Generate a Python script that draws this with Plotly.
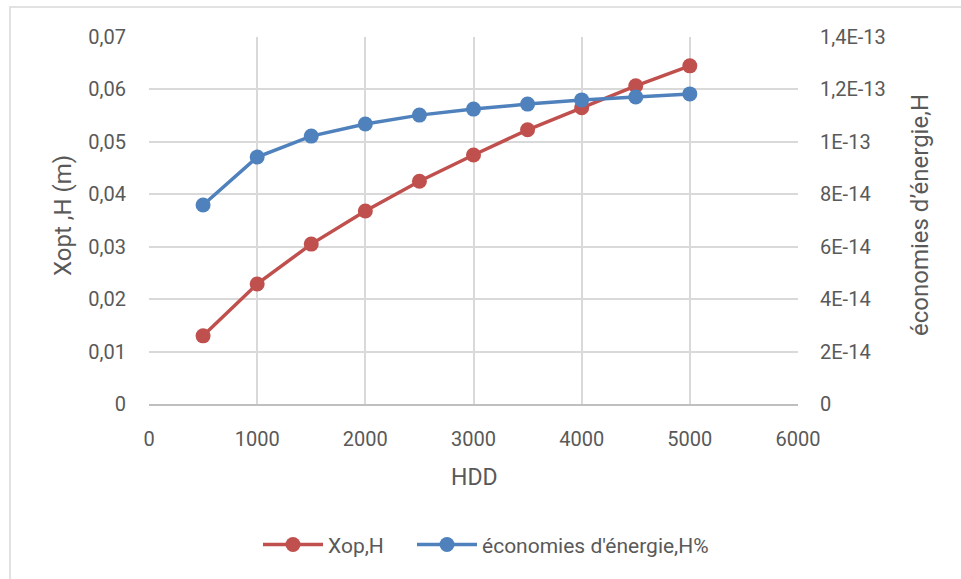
import plotly.graph_objects as go

hdd = [500, 1000, 1500, 2000, 2500, 3000, 3500, 4000, 4500, 5000]
xop_h = [0.0130, 0.0229, 0.0305, 0.0368, 0.0425, 0.0475, 0.0523, 0.0565, 0.0607, 0.0645]
eco_h = [0.759e-13, 0.942e-13, 1.022e-13, 1.068e-13, 1.102e-13, 1.125e-13, 1.144e-13, 1.160e-13, 1.171e-13, 1.183e-13]

x_ticks = [0, 1000, 2000, 3000, 4000, 5000, 6000]
y1_ticks = [0, 0.01, 0.02, 0.03, 0.04, 0.05, 0.06, 0.07]
y1_text = ["0", "0,01", "0,02", "0,03", "0,04", "0,05", "0,06", "0,07"]
y2_ticks = [0, 2e-14, 4e-14, 6e-14, 8e-14, 1e-13, 1.2e-13, 1.4e-13]
y2_text = ["0", "2E-14", "4E-14", "6E-14", "8E-14", "1E-13", "1,2E-13", "1,4E-13"]

RED = "#C0504D"
BLUE = "#4F81BD"
TXT = "#595959"
GRID = "#d9d9d9"

fig = go.Figure()
fig.add_trace(go.Scatter(x=hdd, y=xop_h, name="Xop,H", mode="lines+markers",
                         line=dict(color=RED, width=3.5), marker=dict(color=RED, size=15),
                         legendwidth=79))
fig.add_trace(go.Scatter(x=hdd, y=eco_h, name="économies d'énergie,H%", mode="lines+markers",
                         line=dict(color=BLUE, width=3.5), marker=dict(color=BLUE, size=15),
                         yaxis="y2"))

L, R, T, B = 149, 798, 37, 404
W, H = 961, 579
pw, ph = R - L, B - T


def px(xp):
    return (xp - L) / pw


def py(yp):
    return (B - yp) / ph


fig.update_layout(
    width=W, height=H,
    margin=dict(l=L, r=W - R, t=T, b=H - B),
    paper_bgcolor="white", plot_bgcolor="white",
    font=dict(family="Roboto, sans-serif", size=20, color=TXT),
    showlegend=True,
    legend=dict(orientation="h", xref="container", x=258 / W, xanchor="left",
                yref="container", y=0.059, yanchor="middle",
                font=dict(size=21, color=TXT), itemwidth=60, tracegroupgap=0),
    xaxis=dict(range=[0, 6000], tickvals=x_ticks, showgrid=True, gridcolor=GRID, gridwidth=1.5,
               showline=True, linecolor="#bfbfbf", linewidth=1.5, zeroline=False,
               ticks="", tickfont=dict(size=20, color=TXT), ticklabelstandoff=16),
    yaxis=dict(range=[0, 0.07], tickvals=y1_ticks, ticktext=y1_text, showgrid=True,
               gridcolor=GRID, gridwidth=1.5, zeroline=False, showline=False, ticks="",
               tickfont=dict(size=20, color=TXT), ticklabelstandoff=22),
    yaxis2=dict(range=[0, 1.4e-13], tickvals=y2_ticks, ticktext=y2_text, overlaying="y",
                side="right", showgrid=False, zeroline=False, showline=False, ticks="",
                tickfont=dict(size=20, color=TXT), ticklabelstandoff=21),
    annotations=[
        dict(text="Xopt ,H (m)", xref="paper", yref="paper", x=px(63), y=py(216),
             textangle=-90, showarrow=False, xanchor="center", yanchor="middle",
             font=dict(size=24, color=TXT)),
        dict(text="économies d’énergie,H", xref="paper", yref="paper", x=px(920), y=py(215),
             textangle=-90, showarrow=False, xanchor="center", yanchor="middle",
             font=dict(size=24, color=TXT)),
        dict(text="HDD", xref="paper", yref="paper", x=px(474), y=py(477),
             showarrow=False, xanchor="center", yanchor="middle",
             font=dict(size=23, color=TXT)),
    ],
    shapes=[dict(type="rect", xref="paper", yref="paper",
                 x0=px(10), x1=px(966), y0=py(585), y1=py(7),
                 line=dict(color=GRID, width=1.5), fillcolor="rgba(0,0,0,0)", layer="below")],
)

fig.write_html("out.html")
